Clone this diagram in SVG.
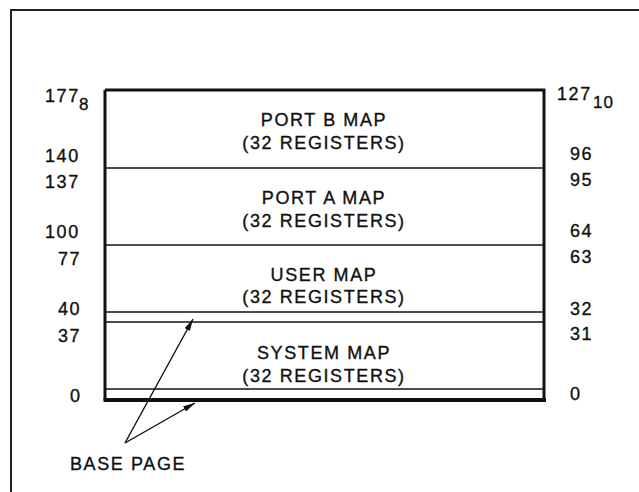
<svg xmlns="http://www.w3.org/2000/svg" width="639" height="492" viewBox="0 0 639 492">
<defs>
<style>
text{font-family:"Liberation Sans",Arial,sans-serif;font-size:18px;fill:#111;stroke:#111;stroke-width:0.35;letter-spacing:1.6px}
.c{text-anchor:middle}
.sub{font-size:17px;letter-spacing:1px}
.thin{stroke:#111;stroke-width:1.5;fill:none}
.frame{stroke:#222;stroke-width:2;fill:none}
.arr{stroke:#111;stroke-width:1.4;fill:none;marker-end:url(#ah)}
</style>
<marker id="ah" viewBox="0 0 12 6" refX="12" refY="3" markerWidth="12" markerHeight="6" markerUnits="userSpaceOnUse" orient="auto">
<path d="M0,0 L12,3 L0,6 z" fill="#111"/>
</marker>
</defs>
<rect width="639" height="492" fill="#fff"/>
<path class="frame" d="M11,492 V10 H639"/>
<g id="memory-box">
<path d="M105,90 H544 V400 M105,400 V90" stroke="#111" stroke-width="3" fill="none"/>
<line x1="103.5" y1="400" x2="546" y2="400" stroke="#111" stroke-width="4"/>
</g>
<g id="port-b">
<text class="c" x="324" y="126">PORT B MAP</text>
<text class="c" x="324" y="149">(32 REGISTERS)</text>
</g>
<g id="port-a">
<line class="thin" x1="105" y1="168" x2="544" y2="168"/>
<text class="c" x="324" y="204">PORT A MAP</text>
<text class="c" x="324" y="227">(32 REGISTERS)</text>
</g>
<g id="user">
<line class="thin" x1="105" y1="245" x2="544" y2="245"/>
<text class="c" x="324" y="281">USER MAP</text>
<text class="c" x="324" y="303">(32 REGISTERS)</text>
<line class="thin" x1="105" y1="312" x2="544" y2="312"/>
</g>
<g id="system">
<line class="thin" x1="105" y1="322" x2="544" y2="322"/>
<text class="c" x="324" y="359">SYSTEM MAP</text>
<text class="c" x="324" y="382">(32 REGISTERS)</text>
<line class="thin" x1="105" y1="389" x2="544" y2="389"/>
</g>
<g id="octal-labels">
<text x="45" y="102">177</text><text class="sub" x="79" y="110">8</text>
<text x="45" y="162">140</text>
<text x="45" y="188">137</text>
<text x="45" y="238">100</text>
<text x="58" y="265">77</text>
<text x="58" y="315">40</text>
<text x="58" y="342">37</text>
<text x="70" y="402">0</text>
</g>
<g id="decimal-labels">
<text x="557" y="100">127</text><text class="sub" x="593" y="108">10</text>
<text x="570" y="160">96</text>
<text x="570" y="186">95</text>
<text x="570" y="237">64</text>
<text x="570" y="263">63</text>
<text x="570" y="315">32</text>
<text x="570" y="340">31</text>
<text x="570" y="400">0</text>
</g>
<g id="base-page">
<text x="70" y="470">BASE PAGE</text>
</g>
<g id="connectors">
<line class="arr" x1="125" y1="443" x2="193" y2="319"/>
<line class="arr" x1="125" y1="443" x2="195" y2="403"/>
</g>
</svg>
